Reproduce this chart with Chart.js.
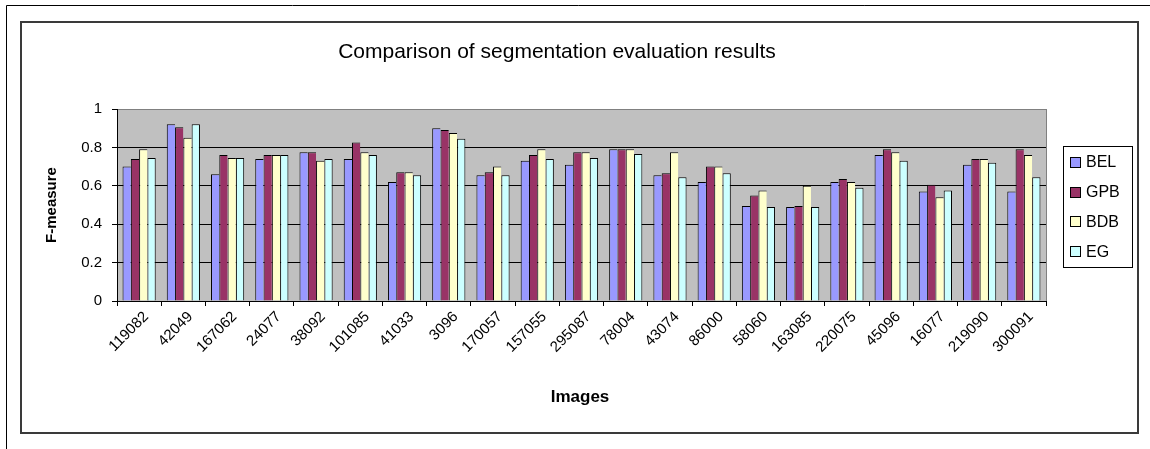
<!DOCTYPE html>
<html><head><meta charset="utf-8">
<script src="https://cdn.jsdelivr.net/npm/chart.js@4/dist/chart.umd.min.js"></script>
<style>html,body{margin:0;padding:0;background:#fff;}#wrap{position:relative;width:1150px;height:449px;}canvas{display:block;}</style>
</head><body><div id="wrap"><canvas id="c" width="1150" height="449"></canvas></div>
<script>
const chartTitle = 'Comparison of segmentation evaluation results';
const xTitle = 'Images';
const yTitle = 'F-measure';
const categories = ['119082','42049','167062','24077','38092','101085','41033','3096','170057','157055','295087','78004','43074','86000','58060','163085','220075','45096','16077','219090','300091'];
const seriesNames = ['BEL','GPB','BDB','EG'];
const bel = [0.70,0.92,0.66,0.74,0.775,0.74,0.62,0.90,0.655,0.73,0.71,0.79,0.655,0.62,0.495,0.49,0.62,0.76,0.57,0.71,0.57];
const gpb = [0.74,0.905,0.76,0.76,0.775,0.825,0.67,0.89,0.67,0.76,0.775,0.79,0.665,0.70,0.55,0.495,0.635,0.79,0.605,0.74,0.79];
const bdb = [0.79,0.85,0.745,0.76,0.73,0.775,0.67,0.875,0.70,0.79,0.775,0.79,0.775,0.70,0.575,0.60,0.62,0.775,0.54,0.74,0.76];
const eg  = [0.745,0.92,0.745,0.76,0.74,0.76,0.655,0.845,0.655,0.74,0.745,0.765,0.645,0.665,0.49,0.49,0.59,0.73,0.575,0.72,0.645];
const yTickLabels = ['0','0.2','0.4','0.6','0.8','1'];
const seriesColors = ['#9999FF','#993366','#FFFFCC','#CCFFFF'];

const FONT = 'Arial, "Liberation Sans", sans-serif';

const decor = {
  id: 'decor',
  beforeDraw(chart) {
    const ctx = chart.ctx, a = chart.chartArea;
    ctx.save();
    ctx.fillStyle = '#fff';
    ctx.fillRect(0, 0, chart.width, chart.height);
    ctx.strokeStyle = '#000'; ctx.lineWidth = 1;
    ctx.beginPath(); ctx.moveTo(6.5, 449); ctx.lineTo(6.5, 5.5); ctx.lineTo(1150, 5.5); ctx.stroke();
    ctx.strokeStyle = '#3a3a3a'; ctx.lineWidth = 2;
    ctx.strokeRect(21, 22, 1117, 411);
    ctx.fillStyle = '#C0C0C0';
    ctx.fillRect(a.left, a.top, a.right - a.left, a.bottom - a.top);
    ctx.restore();
  },
  beforeDatasetsDraw(chart) {
    const ctx = chart.ctx, a = chart.chartArea;
    ctx.save();
    ctx.strokeStyle = '#808080'; ctx.lineWidth = 1;
    ctx.beginPath(); ctx.moveTo(Math.round(a.right) + 0.5, a.top); ctx.lineTo(Math.round(a.right) + 0.5, a.bottom); ctx.stroke();
    ctx.restore();
  },
  afterDraw(chart) {
    const ctx = chart.ctx;
    ctx.save();
    ctx.fillStyle = '#000';
    ctx.font = '21px ' + FONT;
    ctx.textAlign = 'center'; ctx.textBaseline = 'middle';
    ctx.fillText(chartTitle, 557, 52);
    ctx.save();
    ctx.translate(52, 205);
    ctx.rotate(-Math.PI / 2);
    ctx.font = 'bold 15px ' + FONT;
    ctx.fillText(yTitle, 0, 0);
    ctx.restore();
    ctx.font = 'bold 17px ' + FONT;
    ctx.fillText(xTitle, 580, 397);
    const lx = 1063, ly = 146, lw = 69, lh = 121;
    ctx.fillStyle = '#fff';
    ctx.fillRect(lx, ly, lw, lh);
    ctx.strokeStyle = '#000'; ctx.lineWidth = 1;
    ctx.strokeRect(lx + 0.5, ly + 0.5, lw, lh);
    ctx.font = '16px ' + FONT;
    ctx.textAlign = 'left';
    chart.data.datasets.forEach((ds, i) => {
      const cy = 162 + i * 29.7;
      ctx.fillStyle = ds.backgroundColor;
      ctx.fillRect(1070, Math.round(cy - 5), 11, 11);
      ctx.strokeStyle = '#000';
      ctx.strokeRect(1070.5, Math.round(cy - 5) + 0.5, 10, 10);
      ctx.fillStyle = '#000';
      ctx.fillText(ds.label, 1086, cy + 1);
    });
    ctx.restore();
  }
};

const seriesData = [bel, gpb, bdb, eg];
const datasets = seriesNames.map((name, i) => ({
  label: name,
  data: seriesData[i],
  backgroundColor: seriesColors[i],
  borderColor: '#000',
  borderWidth: i === 3 ? {top: 1, left: 1, right: 1, bottom: 0} : {top: 1, left: 1, right: 0, bottom: 0},
  borderSkipped: false,
  categoryPercentage: 0.75,
  barPercentage: 1.0
}));

new Chart(document.getElementById('c'), {
  type: 'bar',
  data: { labels: categories, datasets },
  options: {
    responsive: false,
    animation: false,
    devicePixelRatio: 1,
    layout: { padding: { left: 0, top: 109, right: 104, bottom: 39 } },
    plugins: { legend: { display: false }, title: { display: false }, tooltip: { enabled: false } },
    scales: {
      x: {
        offset: true,
        grid: { display: true, drawOnChartArea: false, drawTicks: true, tickLength: 5, offset: true, tickColor: '#000' },
        border: { display: true, color: '#000', width: 1 },
        ticks: { autoSkip: false, maxRotation: 45, minRotation: 45, padding: 2, labelOffset: 7, color: '#000', font: { family: FONT, size: 15 } },
        afterFit(scale) { scale.height = 109; }
      },
      y: {
        min: 0, max: 1,
        ticks: { stepSize: 0.2, padding: 10, color: '#000', font: { family: FONT, size: 15 },
          callback: (v) => yTickLabels[Math.round(v / 0.2)] },
        grid: { color: (c) => (c.tick && Math.abs(c.tick.value - 1) < 1e-9) ? '#808080' : '#000', tickColor: '#000', tickLength: 5, lineWidth: 1 },
        border: { display: true, color: '#000', width: 1 },
        afterFit(scale) { scale.width = 117; }
      }
    }
  },
  plugins: [decor]
});
</script></body></html>
